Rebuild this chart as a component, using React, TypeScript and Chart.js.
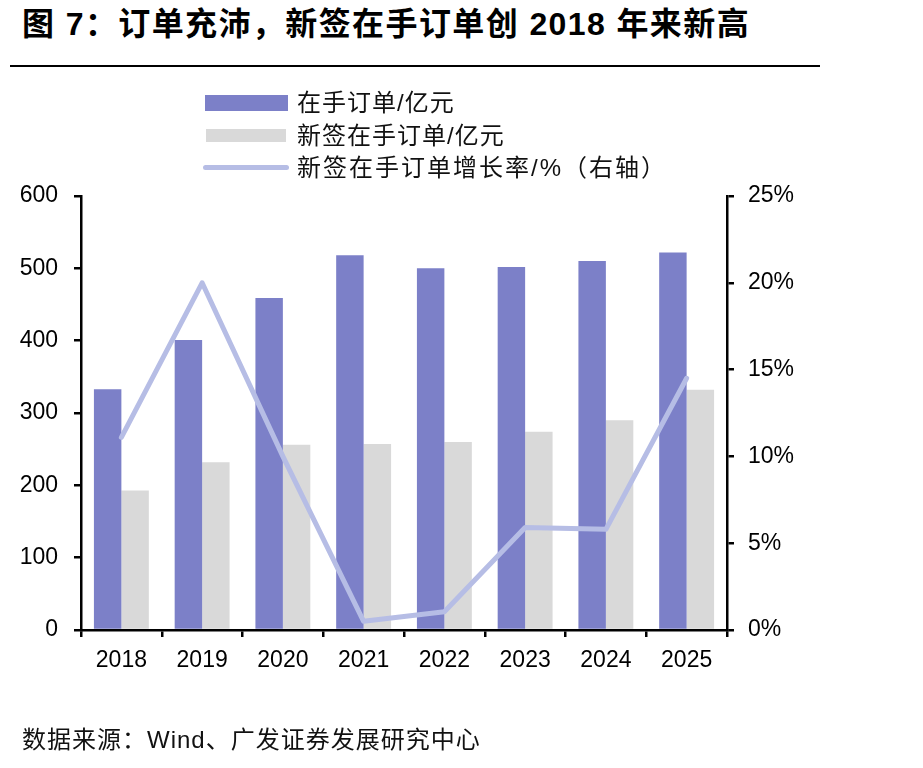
import React, { useEffect, useRef } from "react";
import { Chart, registerables } from "chart.js";

Chart.register(...registerables);

// Years on the category axis
const years = ["2018", "2019", "2020", "2021", "2022", "2023", "2024", "2025"];
// 在手订单 (亿元)
const backlog = [333, 401, 459, 518, 500, 502, 510, 522];
// 新签在手订单 (亿元)
const newBacklog = [193, 232, 256, 257, 260, 274, 290, 332];
// 新签在手订单增长率 (%)
const growthPct = [11.1, 20.0, 10.0, 0.5, 1.05, 5.9, 5.8, 14.5];

const leftTicks = [0, 100, 200, 300, 400, 500, 600];
const rightTicks = [0, 5, 10, 15, 20, 25];

const PURPLE = "#7C80C8";
const GREY = "#D9D9D9";
const LAVENDER = "#B6BDE5";

const W = 923;
const H = 768;
const AREA_LEFT = 81;
const AREA_RIGHT = 727;
const AREA_TOP = 196;
const AREA_BOTTOM = 630;

const tickFont = { family: '"Liberation Sans", Arial, sans-serif', size: 23 };
const cjk = '"Liberation Sans", "Noto Sans CJK SC", sans-serif';

export default function App() {
  const ref = useRef<HTMLCanvasElement | null>(null);

  useEffect(() => {
    if (!ref.current) return;
    const chart = new Chart(ref.current, {
      data: {
        labels: years,
        datasets: [
          {
            type: "line",
            label: "新签在手订单增长率/%（右轴）",
            data: growthPct,
            yAxisID: "y1",
            borderColor: LAVENDER,
            backgroundColor: LAVENDER,
            borderWidth: 5,
            pointRadius: 0,
            borderCapStyle: "round",
            borderJoinStyle: "round",
            tension: 0,
            order: 0,
          },
          {
            type: "bar",
            label: "在手订单/亿元",
            data: backlog,
            yAxisID: "y",
            backgroundColor: PURPLE,
            categoryPercentage: 0.68,
            barPercentage: 1.0,
            order: 1,
          },
          {
            type: "bar",
            label: "新签在手订单/亿元",
            data: newBacklog,
            yAxisID: "y",
            backgroundColor: GREY,
            categoryPercentage: 0.68,
            barPercentage: 1.0,
            order: 1,
          },
        ],
      },
      options: {
        responsive: false,
        animation: false,
        layout: { padding: { top: AREA_TOP, left: 0, right: 0, bottom: 0 } },
        plugins: { legend: { display: false }, tooltip: { enabled: false } },
        scales: {
          x: {
            type: "category",
            offset: true,
            grid: {
              offset: true,
              drawOnChartArea: false,
              drawTicks: true,
              tickLength: 7,
              color: "#000",
              lineWidth: 2.5,
            },
            border: { display: true, color: "#000", width: 2.5 },
            ticks: { color: "#000", font: tickFont, padding: 10 },
            afterFit: (s: any) => {
              s.height = H - AREA_BOTTOM;
            },
          },
          y: {
            type: "linear",
            position: "left",
            min: 0,
            max: 600,
            afterBuildTicks: (s: any) => {
              s.ticks = leftTicks.map((v) => ({ value: v }));
            },
            grid: {
              drawOnChartArea: false,
              drawTicks: true,
              tickLength: 7,
              color: "#000",
              lineWidth: 2.5,
            },
            border: { display: true, color: "#000", width: 2.5 },
            ticks: { color: "#000", font: tickFont, padding: 16 },
            afterFit: (s: any) => {
              s.width = AREA_LEFT;
            },
          },
          y1: {
            type: "linear",
            position: "right",
            min: 0,
            max: 25,
            afterBuildTicks: (s: any) => {
              s.ticks = rightTicks.map((v) => ({ value: v }));
            },
            grid: {
              drawOnChartArea: false,
              drawTicks: true,
              tickLength: 7,
              color: "#000",
              lineWidth: 2.5,
            },
            border: { display: true, color: "#000", width: 2.5 },
            ticks: {
              color: "#000",
              font: tickFont,
              padding: 14,
              callback: (v: any) => `${v}%`,
            },
            afterFit: (s: any) => {
              s.width = W - AREA_RIGHT;
            },
          },
        },
      },
    } as any);
    return () => chart.destroy();
  }, []);

  const legendRow = (top: number, swatch: React.ReactNode, text: string, spacing = 1) => (
    <div
      style={{
        position: "absolute",
        left: 203,
        top,
        height: 30,
        display: "flex",
        alignItems: "center",
      }}
    >
      <div style={{ width: 88, height: 30, position: "relative" }}>{swatch}</div>
      <span
        style={{
          marginLeft: 6,
          fontFamily: cjk,
          fontSize: 24,
          lineHeight: "30px",
          letterSpacing: spacing,
          color: "#111",
          whiteSpace: "nowrap",
        }}
      >
        {text}
      </span>
    </div>
  );

  return (
    <div
      style={{
        position: "absolute",
        left: 0,
        top: 0,
        width: W,
        height: H,
        background: "#fff",
        overflow: "hidden",
      }}
    >
      <div
        style={{
          position: "absolute",
          left: 22,
          top: 6,
          fontFamily: cjk,
          fontWeight: 700,
          fontSize: 32,
          lineHeight: "36px",
          letterSpacing: 1.4,
          color: "#000",
          whiteSpace: "nowrap",
        }}
      >
        图 7：订单充沛，新签在手订单创 2018 年来新高
      </div>
      <div
        style={{
          position: "absolute",
          left: 10,
          top: 65,
          width: 810,
          height: 2,
          background: "#000",
        }}
      />
      <canvas
        ref={ref}
        width={W}
        height={H}
        style={{ position: "absolute", left: 0, top: 0, width: W, height: H }}
      />
      {legendRow(
        88,
        <div style={{ position: "absolute", left: 2, top: 7, width: 83, height: 16, background: PURPLE }} />,
        "在手订单/亿元"
      )}
      {legendRow(
        121,
        <div style={{ position: "absolute", left: 3, top: 8, width: 80, height: 13, background: GREY }} />,
        "新签在手订单/亿元"
      )}
      {legendRow(
        153,
        <div
          style={{
            position: "absolute",
            left: 0,
            top: 12,
            width: 86,
            height: 5,
            borderRadius: 3,
            background: LAVENDER,
          }}
        />,
        "新签在手订单增长率/%（右轴）",
        2
      )}
      <div
        style={{
          position: "absolute",
          left: 22,
          top: 724,
          fontFamily: cjk,
          fontSize: 24,
          lineHeight: "32px",
          letterSpacing: 1,
          color: "#111",
          whiteSpace: "nowrap",
        }}
      >
        数据来源：Wind、广发证券发展研究中心
      </div>
    </div>
  );
}
